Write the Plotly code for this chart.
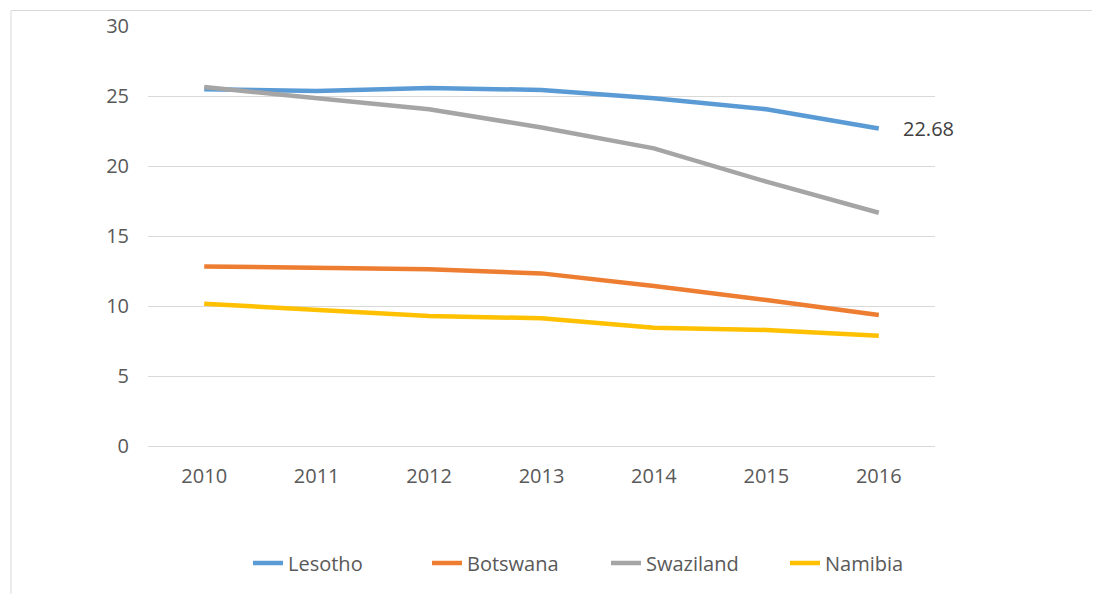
import plotly.graph_objects as go

years = ["2010", "2011", "2012", "2013", "2014", "2015", "2016"]
lesotho = [25.48, 25.36, 25.58, 25.43, 24.84, 24.05, 22.68]
botswana = [12.83, 12.69, 12.62, 12.33, 11.43, 10.43, 9.36]
swaziland = [25.64, 24.84, 24.05, 22.75, 21.26, 18.88, 16.66]
namibia = [10.16, 9.76, 9.29, 9.12, 8.45, 8.29, 7.88]
y_ticks = [0, 5, 10, 15, 20, 25, 30]

series = [
    ("Lesotho", lesotho, "#5b9bd5"),
    ("Botswana", botswana, "#ed7d31"),
    ("Swaziland", swaziland, "#a5a5a5"),
    ("Namibia", namibia, "#ffc000"),
]

OFF = 8  # default page body margin
W, H = 1100 - OFF, 594 - OFF
L, R, T, B = 148 - OFF, 165, 26 - OFF, 148
pw, ph = W - L - R, H - T - B

def px_x(p):
    return (p - OFF - L) / pw

def px_y(p):
    return (H - B - (p - OFF)) / ph

fig = go.Figure()
for name, vals, color in series:
    fig.add_trace(go.Scatter(
        x=years, y=vals, name=name, mode="lines",
        line=dict(color=color, width=4.5, shape="linear"),
    ))

fig.add_annotation(
    x=len(years) - 1, y=lesotho[-1], text=f"{lesotho[-1]:.2f}",
    xref="x", yref="y",
    xanchor="left", yanchor="middle", xshift=22, showarrow=False,
    font=dict(family="Open Sans", size=20, color="#404040"),
)

fig.add_shape(
    type="rect", xref="paper", yref="paper",
    x0=px_x(11), x1=px_x(1120), y0=px_y(620), y1=px_y(10.5),
    line=dict(color="#d9d9d9", width=1), fillcolor="rgba(0,0,0,0)", layer="below",
)

fig.update_layout(
    width=W, height=H,
    margin=dict(l=L, r=R, t=T, b=B, pad=0, autoexpand=False),
    paper_bgcolor="white", plot_bgcolor="white",
    font=dict(family="Open Sans", size=20, color="#595959"),
    showlegend=True,
    legend=dict(
        orientation="h", x=px_x(248), xanchor="left",
        y=px_y(563), yanchor="middle",
        entrywidth=134, entrywidthmode="pixels",
        font=dict(family="Open Sans", size=20, color="#595959"),
        bgcolor="rgba(0,0,0,0)",
    ),
    xaxis=dict(
        type="category", range=[-0.5, 6.5], showgrid=False,
        showline=True, linecolor="#d9d9d9", linewidth=1, automargin=False,
        ticks="", ticklabelstandoff=12, zeroline=False, fixedrange=True,
    ),
    yaxis=dict(
        range=[0, 30], tickvals=y_ticks, showgrid=True, automargin=False,
        gridcolor="#d9d9d9", gridwidth=1, zeroline=True,
        zerolinecolor="#d9d9d9", zerolinewidth=1, showline=False,
        ticks="", ticklabelstandoff=18, fixedrange=True,
    ),
)

fig.write_html("out.html")
